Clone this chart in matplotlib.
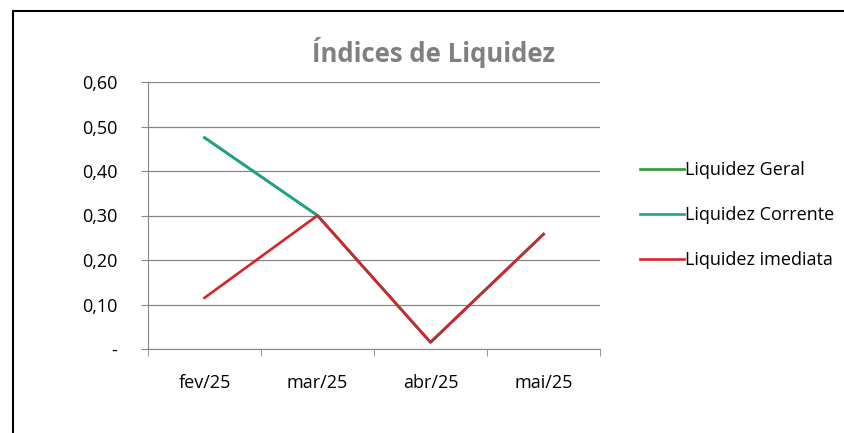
import numpy as np
import matplotlib
matplotlib.use("Agg")
import matplotlib.pyplot as plt
from matplotlib.patches import Rectangle

meses = ["fev/25", "mar/25", "abr/25", "mai/25"]
liquidez_geral = [0.475, 0.30, 0.015, 0.258]
liquidez_corrente = [0.475, 0.30, 0.015, 0.258]
liquidez_imediata = [0.115, 0.30, 0.015, 0.258]
yticks = [0, 0.1, 0.2, 0.3, 0.4, 0.5, 0.6]
ytick_labels = ["-", "0,10", "0,20", "0,30", "0,40", "0,50", "0,60"]

plt.rcParams['font.family'] = ['Open Sans', 'DejaVu Sans']

fig = plt.figure(figsize=(8.44, 4.33), dpi=100)
ax = fig.add_axes([148/844, 1 - 349/433, (600 - 148)/844, (349 - 82)/433])

x = np.arange(len(meses))
ax.plot(x, liquidez_geral, color="#2e9a2e", lw=1.9, label="Liquidez Geral")
ax.plot(x, liquidez_corrente, color="#1fa091", lw=1.9, label="Liquidez Corrente")
ax.plot(x, liquidez_imediata, color="#d8232a", lw=1.9, label="Liquidez imediata")

ax.set_xlim(-0.5, len(meses) - 0.5)
ax.set_ylim(0, 0.6)
ax.set_xticks(x)
ax.set_xticklabels(meses, fontsize=13)
ax.set_xticks(np.arange(-0.5, len(meses)), minor=True)
ax.tick_params(axis="x", which="major", length=0, pad=18)
ax.tick_params(axis="x", which="minor", length=5, color="#868686", direction="out")
ax.set_yticks(yticks)
ax.set_yticklabels(ytick_labels, fontsize=13)
ax.tick_params(axis="y", length=5, color="#868686", pad=17)

ax.grid(axis="y", color="#868686", lw=0.9)
ax.set_axisbelow(True)
for side in ["top", "right"]:
    ax.spines[side].set_visible(False)
ax.spines["left"].set_color("#868686")
ax.spines["bottom"].set_color("#868686")

fig.text(433/844, 1 - 52/433, "Índices de Liquidez", ha="center", va="center",
         fontsize=18.5, fontweight="bold", color="#808080")

leg = fig.legend(loc="upper left", bbox_to_anchor=(624/844, 1 - 145/433), frameon=False,
                 fontsize=13, handlelength=2.4, handletextpad=0.1, labelspacing=1.5)

fig.patches.append(Rectangle((12.5/844, -0.2), 1.2, 1.2 + (1 - 10.5/433 - 1),
                             transform=fig.transFigure, fill=False, ec="black", lw=1.5))

fig.savefig("out.png", dpi=100)
